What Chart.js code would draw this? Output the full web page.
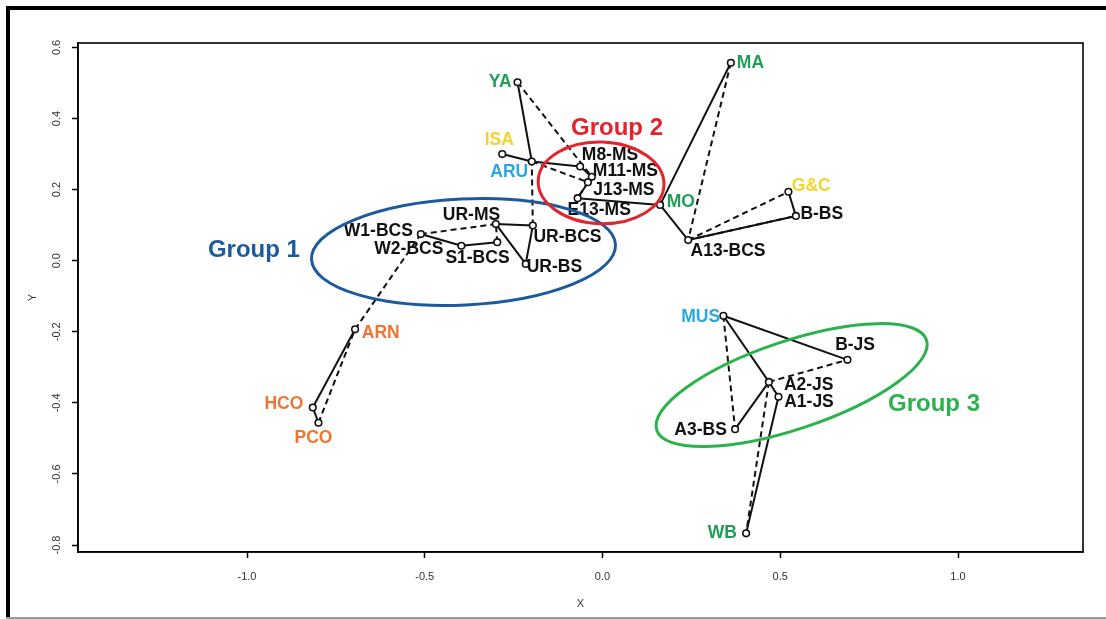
<!DOCTYPE html>
<html>
<head>
<meta charset="utf-8">
<script src="https://cdn.jsdelivr.net/npm/chart.js@4.4.1/dist/chart.umd.min.js"></script>
<style>
  html, body { margin: 0; padding: 0; background: #fff; }
  canvas { display: block; }
</style>
</head>
<body>
<canvas id="c" width="1106" height="619"></canvas>
<script>
// ---- data ----------------------------------------------------------------
const sites = ['YA','MA','ISA','ARU','M8-MS','M11-MS','J13-MS','E13-MS','MO','A13-BCS','G&C','B-BS',
               'W1-BCS','W2-BCS','S1-BCS','UR-MS','UR-BCS','UR-BS','ARN','HCO','PCO',
               'MUS','B-JS','A2-JS','A1-JS','A3-BS','WB'];
const xCoord = [-0.239, 0.361, -0.282, -0.199, -0.063, -0.030, -0.041, -0.070, 0.162, 0.241, 0.523, 0.544,
                -0.511, -0.397, -0.296, -0.300, -0.196, -0.216, -0.696, -0.815, -0.799,
                0.340, 0.689, 0.468, 0.495, 0.373, 0.404];
const yCoord = [0.502, 0.557, 0.300, 0.279, 0.265, 0.236, 0.221, 0.176, 0.157, 0.058, 0.194, 0.126,
                0.075, 0.042, 0.052, 0.103, 0.099, -0.009, -0.193, -0.413, -0.456,
                -0.155, -0.279, -0.341, -0.383, -0.474, -0.767];
const siteClass = ['green','green','yellow','blue','black','black','black','black','green','black','yellow','black',
                   'black','black','black','black','black','black','orange','orange','orange',
                   'blue','black','black','black','black','green'];

const solidLinks = [
  ['HCO','ARN'], ['HCO','PCO'], ['W1-BCS','W2-BCS'], ['W2-BCS','S1-BCS'],
  ['UR-MS','UR-BCS'], ['UR-MS','UR-BS'], ['UR-BS','UR-BCS'],
  ['YA','ARU'], ['ISA','ARU'], ['ARU','M8-MS'], ['M8-MS','M11-MS'], ['M11-MS','E13-MS'],
  ['E13-MS','MO'], ['MO','MA'], ['MO','A13-BCS'], ['A13-BCS','B-BS'], ['G&C','B-BS'],
  ['MUS','B-JS'], ['MUS','A2-JS'], ['A2-JS','A1-JS'], ['A2-JS','A3-BS'], ['A1-JS','WB']
];
const dashedLinks = [
  ['PCO','ARN'], ['ARN','W1-BCS'], ['W1-BCS','UR-MS'], ['S1-BCS','UR-MS'], ['UR-BCS','ARU'],
  ['YA','M11-MS'], ['ARU','J13-MS'], ['J13-MS','E13-MS'], ['MA','A13-BCS'], ['A13-BCS','G&C'],
  ['A13-BCS','B-BS'], ['MUS','A3-BS'], ['A2-JS','B-JS'], ['A2-JS','WB']
];

const groupNames = ['Group 1', 'Group 2', 'Group 3'];

const xTicks = [-1.0, -0.5, 0.0, 0.5, 1.0];
const yTicks = [-0.8, -0.6, -0.4, -0.2, 0.0, 0.2, 0.4, 0.6];

// ---- styling -------------------------------------------------------------
const X_MIN = -1.4754, X_MAX = 1.3516, Y_MIN = -0.8196, Y_MAX = 0.6125;

const palette = {
  black: '#111111', green: '#1f9d55', yellow: '#f3d42e', blue: '#27a8e0', orange: '#ee7430'
};

// label anchor offsets in pixels from each marker: [dx, dy, textAlign]
const labelPlacement = {
  'YA': [-6, 0, 'right'], 'MA': [6, 0, 'left'], 'ISA': [-3, -13.5, 'center'], 'ARU': [-3.5, 10.5, 'right'],
  'M8-MS': [1.7, -11, 'left'], 'M11-MS': [1, -6, 'left'], 'J13-MS': [5.3, 8, 'left'], 'E13-MS': [-10, 11.7, 'left'],
  'MO': [6.7, -2.5, 'left'], 'A13-BCS': [2.4, 10.8, 'left'], 'G&C': [3.4, -6, 'left'], 'B-BS': [4.5, -2, 'left'],
  'W1-BCS': [-8, -3.2, 'right'], 'W2-BCS': [-18, 3, 'right'], 'S1-BCS': [-19.8, 16, 'center'],
  'UR-MS': [4.3, -8.8, 'right'], 'UR-BCS': [0.6, 11.3, 'left'], 'UR-BS': [1, 3.5, 'left'],
  'ARN': [6.7, 4, 'left'], 'HCO': [-9.4, -3.5, 'right'], 'PCO': [-5, 15.6, 'center'],
  'MUS': [-3.3, 1, 'right'], 'B-JS': [-12.3, -15, 'left'], 'A2-JS': [15, 3.3, 'left'],
  'A1-JS': [5.7, 5.5, 'left'], 'A3-BS': [-8.3, 1, 'right'], 'WB': [-9.3, 0, 'right']
};

// group outlines in data units: centre, semi-axes, screen rotation (deg), label anchor
const groupOutlines = [
  { color: '#1d5a9c', cx: -0.391, cy: 0.0245, rx: 0.428, ry: 0.149, rot: -2.8, lx: -1.110, ly: 0.010 },
  { color: '#e3232d', cx: -0.004, cy: 0.219, rx: 0.177, ry: 0.115, rot: 2, lx: -0.0886, ly: 0.3537 },
  { color: '#2bb24c', cx: 0.532, cy: -0.350, rx: 0.400, ry: 0.124, rot: -18.5, lx: 0.8031, ly: -0.4229 }
];

const siteIndex = Object.fromEntries(sites.map((s, i) => [s, i]));
const pt = s => ({ x: xCoord[siteIndex[s]], y: yCoord[siteIndex[s]] });

const linkDataset = (pair, dashed) => ({
  data: [pt(pair[0]), pt(pair[1])],
  showLine: true,
  borderColor: '#111',
  borderWidth: 2,
  borderDash: dashed ? [6, 4] : [],
  pointRadius: 0,
  pointHoverRadius: 0
});

const datasets = [
  {
    data: sites.map((s, i) => ({ x: xCoord[i], y: yCoord[i] })),
    pointRadius: 3.3,
    pointBackgroundColor: '#fff',
    pointBorderColor: '#111',
    pointBorderWidth: 1.6,
    showLine: false
  },
  ...solidLinks.map(p => linkDataset(p, false)),
  ...dashedLinks.map(p => linkDataset(p, true))
];

// ---- plugins -------------------------------------------------------------
const framePlugin = {
  id: 'frame',
  beforeDraw(chart) {
    const { ctx, width, height } = chart;
    ctx.save();
    ctx.fillStyle = '#fff';
    ctx.fillRect(0, 0, width, height);
    ctx.fillStyle = '#000';
    ctx.fillRect(6, 6, width - 6, 4);
    ctx.fillRect(6, 6, 4, height - 6);
    ctx.fillStyle = '#9a9a9a';
    ctx.fillRect(6, height - 2, width - 6, 2);
    ctx.restore();
  },
  afterDraw(chart) {
    const { ctx, chartArea: a } = chart;
    ctx.save();
    ctx.strokeStyle = '#000';
    ctx.lineWidth = 1.6;
    ctx.strokeRect(a.left, a.top, a.right - a.left, a.bottom - a.top);
    ctx.restore();
  }
};

const annotationPlugin = {
  id: 'siteAnnotations',
  afterDatasetsDraw(chart) {
    const { ctx, scales: { x, y } } = chart;
    ctx.save();
    // site names
    ctx.font = 'bold 17.5px "Liberation Sans", Arial, sans-serif';
    ctx.textBaseline = 'middle';
    sites.forEach((name, i) => {
      const px = x.getPixelForValue(xCoord[i]);
      const py = y.getPixelForValue(yCoord[i]);
      const [dx, dy, align] = labelPlacement[name];
      ctx.fillStyle = palette[siteClass[i]];
      ctx.textAlign = align;
      ctx.fillText(name, px + dx, py + dy);
    });
    // group outlines and their names
    groupOutlines.forEach((g, k) => {
      const cx = x.getPixelForValue(g.cx), cy = y.getPixelForValue(g.cy);
      const rx = x.getPixelForValue(g.cx + g.rx) - cx;
      const ry = cy - y.getPixelForValue(g.cy + g.ry);
      ctx.beginPath();
      ctx.ellipse(cx, cy, rx, ry, g.rot * Math.PI / 180, 0, Math.PI * 2);
      ctx.strokeStyle = g.color;
      ctx.lineWidth = 3;
      ctx.stroke();
      ctx.font = 'bold 24px "Liberation Sans", Arial, sans-serif';
      ctx.textAlign = 'left';
      ctx.textBaseline = 'alphabetic';
      ctx.fillStyle = g.color;
      ctx.fillText(groupNames[k], x.getPixelForValue(g.lx), y.getPixelForValue(g.ly));
    });
    ctx.restore();
  }
};

// ---- chart ---------------------------------------------------------------
const axisFont = { family: '"Liberation Sans", Arial, sans-serif', size: 11 };

new Chart(document.getElementById('c'), {
  type: 'scatter',
  data: { datasets },
  options: {
    responsive: false,
    devicePixelRatio: 1,
    animation: false,
    events: [],
    layout: { padding: { top: 43, right: 23, left: 0, bottom: 0 } },
    plugins: { legend: { display: false }, tooltip: { enabled: false } },
    scales: {
      x: {
        type: 'linear', position: 'bottom', min: X_MIN, max: X_MAX,
        afterBuildTicks: s => { s.ticks = xTicks.map(v => ({ value: v })); },
        afterFit: s => { s.height = 67; },
        ticks: { callback: v => v.toFixed(1), font: axisFont, color: '#333', padding: 12, maxRotation: 0, autoSkip: false },
        grid: { drawOnChartArea: false, drawTicks: true, tickLength: 6, tickColor: '#000', tickWidth: 1.5 },
        border: { display: true, color: '#000', width: 1.6 },
        title: { display: true, text: 'X', font: axisFont, color: '#333', padding: { top: 0, bottom: 8.4 } }
      },
      y: {
        type: 'linear', position: 'left', min: Y_MIN, max: Y_MAX,
        afterBuildTicks: s => { s.ticks = yTicks.map(v => ({ value: v })); },
        afterFit: s => { s.width = 78; },
        ticks: { callback: v => v.toFixed(1), font: axisFont, color: '#333', padding: 5.5,
                 minRotation: 90, maxRotation: 90, crossAlign: 'center', autoSkip: false },
        grid: { drawOnChartArea: false, drawTicks: true, tickLength: 6, tickColor: '#000', tickWidth: 1.5 },
        border: { display: true, color: '#000', width: 1.6 },
        title: { display: true, text: 'Y', font: axisFont, color: '#333', padding: { top: 26.4, bottom: 0 } }
      }
    }
  },
  plugins: [framePlugin, annotationPlugin]
});
</script>
</body>
</html>
